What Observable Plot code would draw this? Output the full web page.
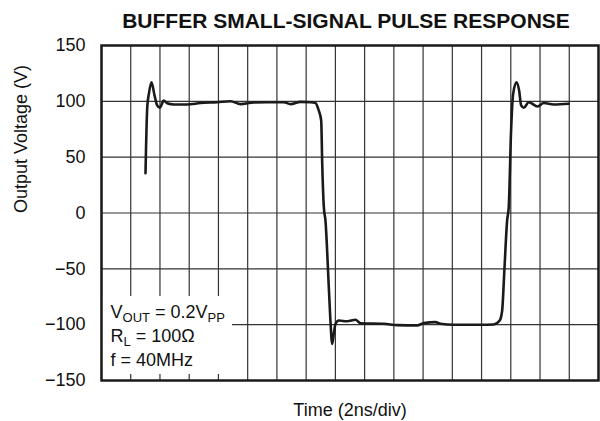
<!DOCTYPE html>
<html><head><meta charset="utf-8">
<script src="https://cdn.jsdelivr.net/npm/d3@7"></script>
<script src="https://cdn.jsdelivr.net/npm/@observablehq/plot@0.6"></script>
<style>body{margin:0;background:#fff} #chart{width:600px;height:421px}</style>
</head><body><div id="chart"></div>
<script>
const title = "BUFFER SMALL-SIGNAL PULSE RESPONSE";
const xLabel = "Time (2ns/div)";
const yLabel = "Output Voltage (V)";
const yTicks = [-150, -100, -50, 0, 50, 100, 150];
const xGrid = [0, 2, 4, 6, 8, 10, 12, 14, 16, 18, 20, 22, 24, 26, 28, 30, 32, 34];
const timeNs = [3.01, 3.13, 3.24, 3.42, 3.63, 3.81, 3.99, 4.26, 4.49, 4.95, 5.86, 6.77, 7.91, 8.82, 9.51, 10.42, 11.33, 12.47, 12.93, 13.61, 14.30, 14.64, 14.86, 15.03, 15.10, 15.21, 15.32, 15.55, 15.66, 15.78, 15.89, 16.01, 16.23, 16.81, 17.37, 17.72, 19.31, 20.23, 21.59, 22.05, 22.85, 23.19, 24.10, 25.92, 26.83, 27.24, 27.41, 27.56, 27.75, 27.86, 28.02, 28.16, 28.39, 28.57, 28.71, 28.89, 29.23, 29.84, 30.25, 30.94, 31.96];
const voltage = [35.6, 94.7, 106.7, 117.1, 105.2, 96.3, 94.2, 100.7, 98.3, 97.2, 97.2, 98.5, 99.2, 100.1, 97.5, 99.0, 99.2, 99.2, 97.5, 99.5, 99.2, 98.5, 91.8, 82.8, 44, 5.2, -6.7, -66.4, -96.3, -117.2, -108.2, -99.2, -96.3, -97, -95.6, -98.7, -99.2, -100.4, -100.7, -98.6, -97.7, -99.2, -100.1, -100.1, -99.8, -96.3, -87.3, -51.5, -6.7, 5.2, 73.9, 106.7, 117.1, 109.7, 96.3, 94.2, 99.2, 95.4, 98.5, 97.2, 97.9];
// annotation text: [text, isSubscript]
const noteLines = [
  [["V", 0], ["OUT", 1], [" = 0.2V", 0], ["PP", 1]],
  [["R", 0], ["L", 1], [" = 100Ω", 0]],
  [["f = 40MHz", 0]]
];
const noteBox = [{x1: 0, x2: 8.96, y1: -144.6, y2: -74.8}];

const data = timeNs.map((t, i) => ({t, v: voltage[i]}));
const plain = noteLines.map(l => l.map(s => s[0]).join(""));
const ink = "#1a1a1a";
const font = "'Liberation Sans', Arial, Helvetica, sans-serif";

const chart = Plot.plot({
  width: 600, height: 421,
  marginLeft: 101, marginRight: 2, marginTop: 45, marginBottom: 41,
  x: {domain: [0, 34], axis: null},
  y: {domain: [-150, 150], ticks: yTicks, tickSize: 0, tickPadding: 16, label: null},
  style: {fontFamily: font, fontSize: "18px", color: "#111", background: "white"},
  marks: [
    Plot.ruleX(xGrid, {stroke: "#333", strokeWidth: 1.2}),
    Plot.ruleY(yTicks, {stroke: "#333", strokeWidth: 1.2}),
    Plot.rect(noteBox, {x1: "x1", x2: "x2", y1: "y1", y2: "y2", fill: "white"}),
    Plot.line(data, {x: "t", y: "v", stroke: ink, strokeWidth: 2.6, curve: "monotone-x"}),
    Plot.frame({stroke: ink, strokeWidth: 2.5}),
    Plot.text([title], {text: d => d, frameAnchor: "top", dy: -18, dx: -4, lineAnchor: "bottom", fontWeight: "bold", fontSize: 21, fill: "#111"}),
    Plot.text([xLabel], {text: d => d, frameAnchor: "bottom", dy: 35, lineAnchor: "bottom", fill: "#111"}),
    Plot.text([yLabel], {text: d => d, frameAnchor: "left", dx: -80, rotate: -90, fill: "#111"}),
    ...plain.map((p, i) => Plot.text([p], {text: d => d, frameAnchor: "bottom-left", dx: 9, dy: -63 + 24 * i, textAnchor: "start", lineAnchor: "bottom", fill: "#111"}))
  ]
});
document.getElementById("chart").appendChild(chart);

// rebuild annotation lines with subscripts
const NS = "http://www.w3.org/2000/svg";
chart.querySelectorAll("text").forEach(el => {
  const idx = plain.indexOf(el.textContent);
  if (idx < 0) return;
  while (el.firstChild) el.removeChild(el.firstChild);
  let shifted = false;
  noteLines[idx].forEach(([s, sub]) => {
    const ts = document.createElementNS(NS, "tspan");
    ts.textContent = s;
    if (sub) { ts.setAttribute("font-size", "13"); if (!shifted) { ts.setAttribute("dy", "4"); shifted = true; } }
    else if (shifted) { ts.setAttribute("dy", "-4"); shifted = false; }
    el.appendChild(ts);
  });
});
</script>
</body></html>
